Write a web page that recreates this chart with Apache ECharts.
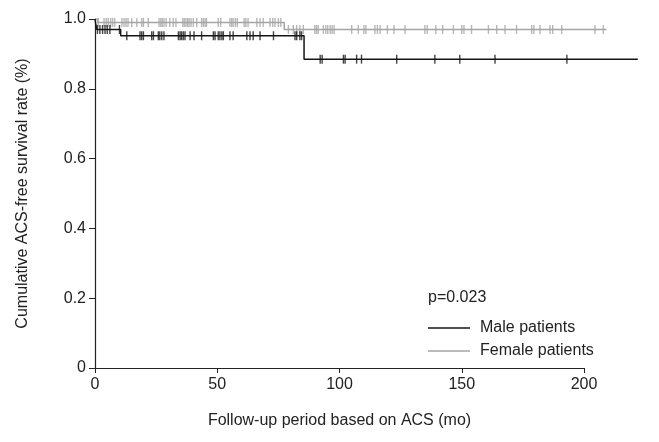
<!DOCTYPE html>
<html>
<head>
<meta charset="utf-8">
<title>ACS-free survival</title>
<script src="https://cdn.jsdelivr.net/npm/echarts@6/dist/echarts.min.js"></script>
<style>
  html, body { margin: 0; padding: 0; background: #fff; }
  #main { width: 659px; height: 442px; }
</style>
</head>
<body>
<div id="main"></div>
<script type="text/javascript">
// step points of the survival curves [month, rate]; follow-up runs past the 200 mo axis end
var maleCurve = [[0, 1], [0.3, 0.985], [0.7, 0.97], [10.5, 0.952], [85.5, 0.885], [222, 0.885]];
var femaleCurve = [[0, 1], [1.1, 0.99], [77.4, 0.97], [209.2, 0.97]];

// censored times (months)
var maleCensor = [1.0, 2.0, 3.1, 4.1, 5.0, 6.1, 10.0, 13.0, 18.4, 19.1, 19.8, 23.2, 23.9, 25.9, 26.5, 27.3, 28.2,
	34.1, 34.8, 35.4, 36.1, 36.8, 38.9, 40.5, 43.6, 48.4, 49.1, 50.4, 51.1, 51.9, 52.5, 55.2, 56.5,
	62.1, 63.4, 64.7, 67.5, 73.0, 81.8, 82.5, 83.8, 84.5,
	92.1, 92.9, 101.6, 102.3, 107.0, 109.0, 123.4, 139.0, 149.2, 163.6, 193.0];
var femaleCensor = [1.3, 3.7, 4.6, 5.4, 6.4, 7.2, 8.1, 11.0, 11.9, 12.7, 13.5, 15.0, 17.1, 19.1, 19.8, 21.8,
	26.2, 26.9, 27.5, 28.2, 29.1, 30.6, 32.0, 33.1, 35.9, 36.5, 37.2, 37.9, 38.5, 39.3, 40.2, 41.6,
	43.6, 44.3, 45.0, 45.6, 50.4, 51.4, 55.2, 55.9, 56.5, 57.4, 58.2, 61.0, 61.7, 62.6, 66.2, 67.5,
	68.8, 71.6, 72.7, 73.6, 75.0, 76.0,
	79.1, 81.1, 82.5, 83.8, 85.2, 89.9, 90.6, 91.3, 93.4, 94.4, 95.2, 96.2, 97.0, 97.8, 105.0, 107.7,
	110.0, 110.8, 114.5, 115.5, 116.6, 119.6, 122.3, 126.8, 134.9, 135.9, 139.4, 142.2, 146.6, 150.0,
	150.9, 154.0, 160.9, 164.3, 167.7, 172.4, 178.6, 179.5, 182.0, 186.1, 187.2, 190.9, 204.5, 207.9];

var xTicks = [0, 50, 100, 150, 200];
var yTicks = [0, 0.2, 0.4, 0.6, 0.8, 1.0];
var xDataMax = 222;   // last follow-up month, drawn beyond the visible axis

// value of a step curve at time t
function rateAt(curve, t) {
	var v = curve[0][1];
	for (var i = 0; i < curve.length; i++) {
		if (curve[i][0] <= t) v = curve[i][1];
	}
	return v;
}
function marks(curve, times) {
	var out = [];
	for (var i = 0; i < times.length; i++) out.push([times[i], rateAt(curve, times[i])]);
	return out;
}

var textColor = '#222';
var maleColor = '#151515';
var femaleColor = '#a5a5a5';
var gridLeft = 95, gridRight = 75;
var axisWidth = 659 - gridLeft - gridRight;
// wider data grid with the same month scale, so the curves can run past 200
var dataRight = 659 - gridLeft - axisWidth * xDataMax / xTicks[xTicks.length - 1];

var myChart = echarts.init(document.getElementById('main'));
var option = {
	animation: false,
	title: {
		text: 'p=0.023',
		left: 428,
		top: 290,
		padding: 0,
		textStyle: { fontFamily: 'Liberation Sans', fontSize: 16, fontWeight: 'normal', color: textColor }
	},
	legend: {
		orient: 'vertical',
		left: 428,
		top: 319,
		padding: 0,
		itemWidth: 42,
		itemHeight: 1.5,
		itemGap: 5,
		icon: 'rect',
		data: ['Male patients', 'Female patients'],
		textStyle: { fontFamily: 'Liberation Sans', fontSize: 16, color: textColor, lineHeight: 18, padding: [0, 0, 0, 5] }
	},
	grid: [
		{ left: gridLeft, right: gridRight, top: 19, bottom: 74 },
		{ left: gridLeft, right: dataRight, top: 19, bottom: 74 }
	],
	xAxis: [
		{
			gridIndex: 0,
			type: 'value',
			min: xTicks[0],
			max: xTicks[xTicks.length - 1],
			interval: 50,
			name: 'Follow-up period based on ACS (mo)',
			nameLocation: 'middle',
			nameGap: 45,
			nameTextStyle: { fontFamily: 'Liberation Sans', fontSize: 16, color: textColor },
			axisLine: { lineStyle: { color: textColor, width: 1.2 } },
			axisTick: { inside: false, length: 5, lineStyle: { color: textColor } },
			axisLabel: { margin: 9, fontFamily: 'Liberation Sans', fontSize: 16, color: textColor },
			splitLine: { show: false }
		},
		{
			gridIndex: 1,
			type: 'value',
			min: 0,
			max: xDataMax,
			show: false
		}
	],
	yAxis: [
		{
			gridIndex: 0,
			type: 'value',
			min: yTicks[0],
			max: yTicks[yTicks.length - 1],
			interval: 0.2,
			name: 'Cumulative ACS-free survival rate (%)',
			nameLocation: 'middle',
			nameGap: 64,
			nameTextStyle: { fontFamily: 'Liberation Sans', fontSize: 16, color: textColor },
			axisLine: { show: true, lineStyle: { color: textColor, width: 1.2 } },
			axisTick: { show: true, inside: false, length: 6, lineStyle: { color: textColor } },
			axisLabel: {
				margin: 9, fontFamily: 'Liberation Sans', fontSize: 16, color: textColor,
				formatter: function (v) { return v === 0 ? '0' : v.toFixed(1); }
			},
			splitLine: { show: false }
		},
		{
			gridIndex: 1,
			type: 'value',
			min: yTicks[0],
			max: yTicks[yTicks.length - 1],
			show: false
		}
	],
	series: [
		{
			name: 'Male patients',
			type: 'line',
			xAxisIndex: 1,
			yAxisIndex: 1,
			step: 'end',
			symbol: 'none',
			data: maleCurve,
			lineStyle: { color: maleColor, width: 1.5 },
			itemStyle: { color: maleColor },
			z: 3
		},
		{
			name: 'Female patients',
			type: 'line',
			xAxisIndex: 1,
			yAxisIndex: 1,
			step: 'end',
			symbol: 'none',
			data: femaleCurve,
			lineStyle: { color: femaleColor, width: 1.5 },
			itemStyle: { color: femaleColor },
			z: 2
		},
		{
			name: 'male censored',
			type: 'scatter',
			xAxisIndex: 1,
			yAxisIndex: 1,
			symbol: 'rect',
			symbolSize: [1.4, 9],
			clip: false,
			data: marks(maleCurve, maleCensor),
			itemStyle: { color: maleColor },
			z: 4
		},
		{
			name: 'female censored',
			type: 'scatter',
			xAxisIndex: 1,
			yAxisIndex: 1,
			symbol: 'rect',
			symbolSize: [1.4, 9],
			clip: false,
			data: marks(femaleCurve, femaleCensor),
			itemStyle: { color: femaleColor },
			z: 2
		}
	]
};
myChart.setOption(option);
</script>
</body>
</html>
